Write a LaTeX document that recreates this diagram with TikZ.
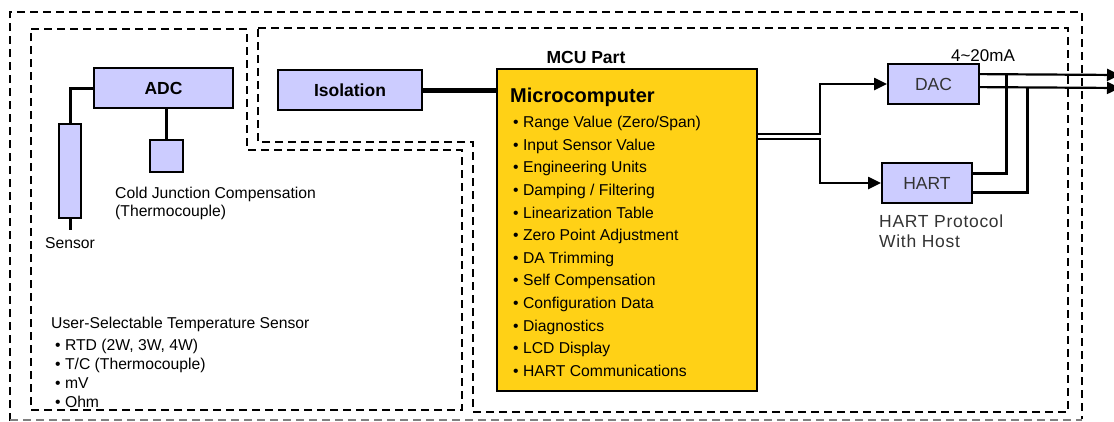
\documentclass[tikz,border=0pt]{standalone}
\usepackage{fontspec}
\setmainfont{Liberation Sans}
\usetikzlibrary{arrows.meta,calc}
\definecolor{lav}{RGB}{204,204,255}
\definecolor{mcuyellow}{RGB}{255,209,22}
\definecolor{txtgray}{RGB}{51,51,51}
\begin{document}
\begin{tikzpicture}[x=1pt,y=-1pt,
  bluebox/.style={draw=black,line width=1.8pt,fill=lav,inner sep=0pt},
  dashbox/.style={draw=black,line width=2pt,dash pattern=on 8pt off 5pt},
  conn/.style={line width=2.2pt},
  heavy/.style={line width=3pt},
  arr/.style={conn,-{Triangle[length=13pt,width=12pt]}},
  body/.style={font=\fontsize{15.7}{18}\selectfont,inner sep=0pt},
  boldlbl/.style={font=\fontsize{17.5}{20}\selectfont\bfseries,inner sep=0pt},
  graylbl/.style={font=\fontsize{17.5}{20}\selectfont,text=txtgray,inner sep=0pt}]
\useasboundingbox (0,0) rectangle (1114,421);
% dashed frames
\draw[dashbox] (10,421) -- (10,12) -- (1082,12) -- (1082,419);
\draw[dashbox,draw=gray] (10,419.5) -- (1082,419.5);
\draw[dashbox] (31,29) -- (247,29) -- (247,150) -- (462,150) -- (462,410) -- (31,410) -- cycle;
\draw[dashbox] (258,28) -- (1068,28) -- (1068,412) -- (473,412) -- (473,142) -- (258,142) -- cycle;
% blocks
\node[bluebox,boldlbl,minimum width=139pt,minimum height=40pt] (adc) at (163.5,88) {ADC};
\node[bluebox,minimum width=22pt,minimum height=94pt] (sensor) at (70,171) {};
\node[bluebox,minimum width=33pt,minimum height=32pt] (cjc) at (166.5,156) {};
\node[bluebox,boldlbl,minimum width=144pt,minimum height=40pt] (iso) at (350,90) {Isolation};
\node[draw=black,line width=1.8pt,fill=mcuyellow,minimum width=260pt,minimum height=322pt,inner sep=0pt] (micro) at (627,230) {};
\node[bluebox,graylbl,minimum width=91pt,minimum height=40pt] (dac) at (933.5,84) {DAC};
\node[bluebox,graylbl,minimum width=90pt,minimum height=40pt] (hart) at (927,183) {HART};
% texts
\node[body,anchor=base] (sensorlbl) at (70,248.5) {Sensor};
\node[body,anchor=base west] (cjc1) at (115,198.5) {Cold Junction Compensation};
\node[body,anchor=base west] (cjc2) at (115,216.5) {(Thermocouple)};
\node[body,anchor=base west] (usel) at (51,328.6) {User-Selectable Temperature Sensor};
\foreach \t [count=\i] in {RTD (2W{,} 3W{,} 4W),T/C (Thermocouple),mV,Ohm}
  \node[body,anchor=base west] (sel\i) at (55,{331.6+18.9*\i}) {• \t};
\node[boldlbl,anchor=base] (mcupart) at (586,63) {MCU Part};
\node[font=\fontsize{20}{24}\selectfont\bfseries,inner sep=0pt,anchor=base west] (mctitle) at (510,102.2) {Microcomputer};
\foreach \t [count=\i] in {Range Value (Zero/Span),Input Sensor Value,Engineering Units,Damping / Filtering,Linearization Table,Zero Point Adjustment,DA Trimming,Self Compensation,Configuration Data,Diagnostics,LCD Display,HART Communications}
  \node[body,anchor=base west] (item\i) at (513,{105+22.6*\i}) {• \t};
\node[font=\fontsize{17}{20}\selectfont,inner sep=0pt,anchor=base] (ma) at (983,61) {4\textasciitilde20mA};
\node[graylbl,anchor=base west] (hp1) at (879,227) {\addfontfeature{LetterSpace=4}HART Protocol};
\node[graylbl,anchor=base west] (hp2) at (879,247) {\addfontfeature{LetterSpace=4}With Host};
% connectors
\draw[heavy] (sensor.north) |- (adc.west);
\coordinate (sensorend) at (70,230);
\draw[heavy] (sensor.south) -- (sensorend);
\draw[heavy] (cjc.north) -- (cjc.north |- adc.south);
\draw[line width=5pt] (iso.east) -- (iso.east -| micro.west);
\draw[arr] (micro.north east) ++(0,66) -- ++(62,0) |- (dac.west);
\draw[arr] (micro.north east) ++(0,71) -- ++(62,0) |- (hart.west);
\coordinate (out1) at (1120,75);
\coordinate (out2) at (1120,88);
\draw[arr] (dac.north east) ++(0,11) -- (out1);
\draw[arr] (dac.north east) ++(0,24) -- (out2);
\coordinate (j1) at (1006,75);
\coordinate (j2) at (1027,88);
\draw[heavy] (hart.north east) ++(0,11) -| (j1);
\draw[heavy] (hart.north east) ++(0,30) -| (j2);
\end{tikzpicture}
\end{document}
